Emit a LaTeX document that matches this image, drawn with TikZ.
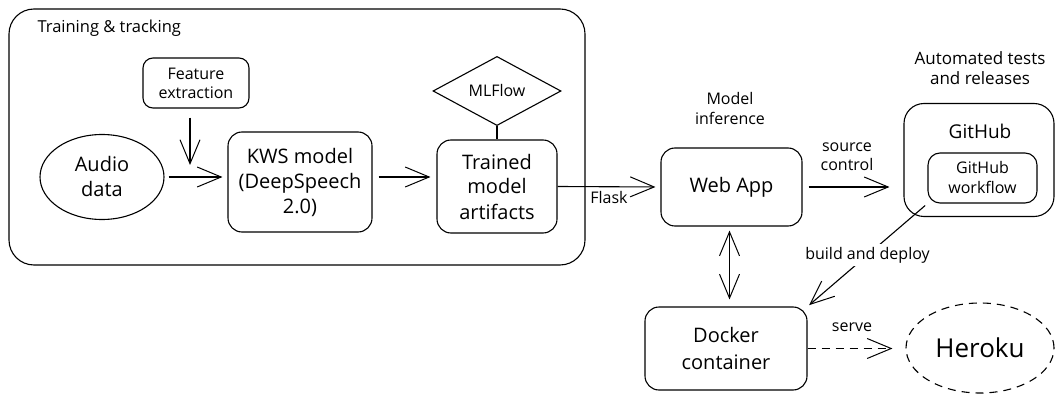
\documentclass[tikz,border=0pt]{standalone}
\usepackage{fontspec}
\setmainfont{Open Sans}
\usetikzlibrary{arrows.meta,shapes.geometric,calc}
\begin{document}
\begin{tikzpicture}[x=1pt,y=-1pt,line width=1.1pt,
  fsmall/.style={font=\fontsize{16}{20}\selectfont},
  fmid/.style={font=\fontsize{20}{25}\selectfont},
  txt/.style={align=center,inner sep=0pt},
  box/.style={draw,rounded corners=14pt,align=center,inner sep=0pt},
  oval/.style={draw,ellipse,align=center,inner sep=0pt},
  tip/.tip={Straight Barb[length=24pt,width=20pt,line width=1pt]},
  arr/.style={-tip},
  darr/.style={tip-tip},
  dashline/.style={dash pattern=on 8pt off 6pt}]
\useasboundingbox (0,0) rectangle (1064,403);

% Training & tracking group
\node[draw,rounded corners=25pt,minimum width=576pt,minimum height=256pt] (train) at (297,137) {};
\node[txt,font=\fontsize{16.5}{20}\selectfont,anchor=west] (tlabel) at (37,28) {Training \& tracking};

\node[box,rounded corners=10pt,minimum width=106pt,minimum height=50pt,font=\fontsize{16}{19}\selectfont] (feat) at (196,83) {Feature\\extraction};
\node[oval,fmid,minimum width=124pt,minimum height=85pt] (audio) at (102,177) {Audio\\data};
\node[box,fmid,minimum width=144pt,minimum height=100pt] (kws) at (300,182) {KWS model\\(DeepSpeech\\2.0)};
\node[box,fmid,minimum width=120pt,minimum height=93pt] (trained) at (497,186.5) {Trained\\model\\artifacts};
\node[draw,diamond,fsmall,inner sep=0pt,minimum width=128pt,minimum height=65pt] (mlflow) at (497,91) {MLFlow};

\coordinate (fe) at (190,165);
\draw[arr,shorten <=9pt] (feat.south -| fe) -- (fe);
\draw[arr,shorten <=4pt,shorten >=5pt] (audio.east) -- (audio.east -| kws.west);
\draw[arr,shorten <=6pt,shorten >=6pt] ([yshift=5pt]kws.east) -- ([yshift=5pt]kws.east -| trained.west);
\draw (mlflow.south) -- (trained.north);

% Inference
\node[txt,fsmall] (minf) at (730,109) {Model\\inference};
\node[box,fmid,minimum width=141pt,minimum height=78pt] (webapp) at (731.5,187) {Web App};
\draw[arr,shorten >=5pt] (trained.east) -- (webapp.west) node[pos=0.5,below=4pt,txt,fsmall] (flask) {Flask};

% GitHub
\node[txt,font=\fontsize{17}{20}\selectfont] (auto) at (980,68) {Automated tests\\and releases};
\node[box,rounded corners=20pt,minimum width=150pt,minimum height=113pt] (github) at (979,160) {};
\node[txt,font=\fontsize{19}{22}\selectfont] (ghlabel) at (980,131) {GitHub};
\node[box,rounded corners=12pt,minimum width=109pt,minimum height=50pt,font=\fontsize{16}{20}\selectfont] (workflow) at (982.5,178) {GitHub\\workflow};
\draw[arr,shorten <=6pt,shorten >=14pt] (webapp.east) -- (webapp.east -| github.west);
\node[txt,font=\fontsize{16}{19}\selectfont] (src) at (847,157) {source\\control};

% Docker / Heroku
\node[box,font=\fontsize{20}{27}\selectfont,minimum width=162pt,minimum height=83pt] (docker) at (726,348.5) {Docker\\container};
\node[oval,dashline,font=\fontsize{26}{30}\selectfont,minimum width=148pt,minimum height=90pt] (heroku) at (980,348) {Heroku};
\draw[darr,shorten <=4pt,shorten >=7pt] ([xshift=-2pt]webapp.south) -- ([xshift=-2pt]webapp.south |- docker.north);
\draw[arr,shorten <=3pt,shorten >=2pt] (workflow.south west) -- (docker.north east)
  node[pos=0.5,fill=white,txt,fsmall,inner sep=3pt] (bd) {build and deploy};
\draw[arr,dashline,shorten >=13pt] (docker.east) -- (docker.east -| heroku.west);
\node[txt,fsmall] (serve) at (852,327) {serve};
\end{tikzpicture}
\end{document}
